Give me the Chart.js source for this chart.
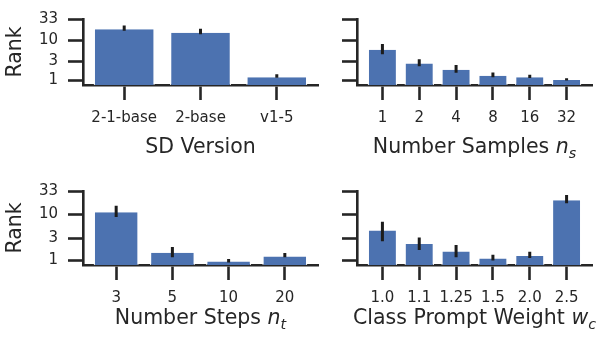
<!DOCTYPE html>
<html><head><meta charset="utf-8">
<script src="https://cdn.jsdelivr.net/npm/chart.js@4/dist/chart.umd.min.js"></script>
<style>
html,body{margin:0;padding:0;background:#fff;}
#wrap{position:relative;width:602px;height:345px;overflow:hidden;background:#fff;}
canvas{position:absolute;}
</style></head><body><div id="wrap">
<canvas id="c1"></canvas><canvas id="c2"></canvas><canvas id="c3"></canvas><canvas id="c4"></canvas>
</div>
<script>
// ---- data ----
const sdVersions = ['2-1-base', '2-base', 'v1-5'];
const sdRank = [18.4, 15.2, 1.21];
const sdLow = [16.9, 13.8, 1.17];
const sdHigh = [22.7, 19.1, 1.43];

const nSamples = ['1', '2', '4', '8', '16', '32'];
const nSamplesRank = [5.74, 2.64, 1.85, 1.32, 1.21, 1.03];
const nSamplesLow = [4.44, 2.25, 1.55, 1.21, 1.16, 1.0];
const nSamplesHigh = [7.95, 3.37, 2.43, 1.57, 1.40, 1.14];

const nSteps = ['3', '5', '10', '20'];
const nStepsRank = [11.3, 1.44, 0.93, 1.19];
const nStepsLow = [8.85, 1.15, 0.88, 1.15];
const nStepsHigh = [15.7, 1.94, 1.05, 1.42];

const classWeights = ['1.0', '1.1', '1.25', '1.5', '2.0', '2.5'];
const classWeightRank = [4.46, 2.24, 1.54, 1.08, 1.23, 20.6];
const classWeightLow = [2.60, 1.67, 1.15, 0.98, 1.11, 17.8];
const classWeightHigh = [6.92, 3.12, 2.14, 1.31, 1.52, 26.9];

const rankTicks = [1, 3, 10, 33];
const yLabel = 'Rank';
const titleSD = [['SD Version', 0]];
const titleSamples = [['Number Samples ', 0], ['n', 1], ['s', 2]];
const titleSteps = [['Number Steps ', 0], ['n', 1], ['t', 2]];
const titleWeight = [['Class Prompt Weight ', 0], ['w', 1], ['c', 2]];

// ---- styling ----
const INK = '#262626';
const BAR = '#4c72b0';
const FONT = 'DejaVu Sans';
const TICK_SIZE = 15;
const TITLE_SIZE = 20.5;

const errPlugin = {
  id: 'errbars',
  afterDatasetsDraw(chart) {
    const ds = chart.data.datasets[0];
    const xs = chart.scales.x, ys = chart.scales.y, ctx = chart.ctx;
    ctx.save();
    ctx.strokeStyle = '#1c1c1c';
    ctx.lineWidth = 3;
    ctx.beginPath();
    ds.errLow.forEach((l, i) => {
      const x = xs.getPixelForValue(i);
      ctx.moveTo(x, ys.getPixelForValue(l));
      ctx.lineTo(x, ys.getPixelForValue(ds.errHigh[i]));
    });
    ctx.stroke();
    ctx.restore();
  }
};

const xTitlePlugin = {
  id: 'xtitle',
  afterDraw(chart, args, opts) {
    const parts = opts.parts;
    const ctx = chart.ctx;
    const fonts = [
      TITLE_SIZE + 'px "' + FONT + '"',
      'italic ' + TITLE_SIZE + 'px "' + FONT + '"',
      'italic ' + (TITLE_SIZE * 0.7) + 'px "' + FONT + '"'
    ];
    let total = 0;
    const widths = parts.map(p => { ctx.font = fonts[p[1]]; const w = ctx.measureText(p[0]).width; total += w; return w; });
    const ca = chart.chartArea;
    let x = (ca.left + ca.right) / 2 - total / 2;
    const base = ca.bottom + opts.offset;
    ctx.save();
    ctx.fillStyle = INK;
    ctx.textBaseline = 'alphabetic';
    ctx.textAlign = 'left';
    parts.forEach((p, i) => {
      ctx.font = fonts[p[1]];
      ctx.fillText(p[0], x, base + (p[1] === 2 ? TITLE_SIZE * 0.22 : 0));
      x += widths[i];
    });
    ctx.restore();
  }
};

function panel(id, box, area, cats, vals, lo, hi, title, showY, titleOffset) {
  const cv = document.getElementById(id);
  cv.width = box.w; cv.height = box.h;
  cv.style.left = box.x + 'px'; cv.style.top = box.y + 'px';
  cv.style.width = box.w + 'px'; cv.style.height = box.h + 'px';
  const n = cats.length;
  const m = 0.05 * (n - 0.2);
  const gridOpts = { display: true, drawOnChartArea: false, drawTicks: true, tickLength: 15, tickWidth: 2.6, tickColor: INK, offset: false };
  const borderOpts = { display: true, color: INK, width: 2.6 };
  new Chart(cv, {
    type: 'bar',
    data: {
      datasets: [{
        data: vals.map((v, i) => ({ x: i, y: v })),
        errLow: lo, errHigh: hi,
        backgroundColor: BAR,
        borderColor: 'rgba(255,255,255,0.85)',
        borderWidth: { left: 1.3, right: 1.3, top: 0, bottom: 0 },
        borderSkipped: false,
        barPercentage: 0.8,
        categoryPercentage: 1
      }]
    },
    options: {
      responsive: false, animation: false, devicePixelRatio: 1,
      layout: { padding: { top: area.t, right: box.w - area.r, left: 0, bottom: 0 } },
      plugins: { legend: { display: false }, tooltip: { enabled: false }, xtitle: { parts: title, offset: titleOffset } },
      scales: {
        x: {
          type: 'linear', min: -0.4 - m, max: n - 0.6 + m, offset: false, z: 1,
          afterBuildTicks: s => { s.ticks = cats.map((c, i) => ({ value: i })); },
          afterFit: s => { s.height = box.h - area.b; },
          ticks: { callback: v => cats[v], font: { family: FONT, size: TICK_SIZE }, color: INK, padding: 9, maxRotation: 0, autoSkip: false },
          grid: gridOpts, border: borderOpts
        },
        y: {
          type: 'logarithmic', min: 0.777, max: 33, z: 1,
          afterBuildTicks: s => { s.ticks = rankTicks.map(v => ({ value: v })); },
          afterFit: s => { s.width = area.l; },
          ticks: { callback: v => showY ? String(v) : '', font: { family: FONT, size: TICK_SIZE }, color: INK, padding: 10, autoSkip: false },
          grid: gridOpts, border: borderOpts,
          title: { display: showY, text: yLabel, font: { family: FONT, size: TITLE_SIZE }, color: INK, padding: { top: 3.3, bottom: 0 } }
        }
      }
    },
    plugins: [errPlugin, xTitlePlugin]
  });
}

panel('c1', { x: 0, y: 0, w: 330, h: 172 }, { l: 83, t: 8, r: 318, b: 85 }, sdVersions, sdRank, sdLow, sdHigh, titleSD, true, 68);
panel('c2', { x: 330, y: 0, w: 272, h: 172 }, { l: 27, t: 8, r: 262, b: 85 }, nSamples, nSamplesRank, nSamplesLow, nSamplesHigh, titleSamples, false, 68);
panel('c3', { x: 0, y: 172, w: 330, h: 173 }, { l: 83, t: 16, r: 318, b: 93 }, nSteps, nStepsRank, nStepsLow, nStepsHigh, titleSteps, true, 59);
panel('c4', { x: 330, y: 172, w: 272, h: 173 }, { l: 27, t: 16, r: 262, b: 93 }, classWeights, classWeightRank, classWeightLow, classWeightHigh, titleWeight, false, 59);
</script>
</body></html>
